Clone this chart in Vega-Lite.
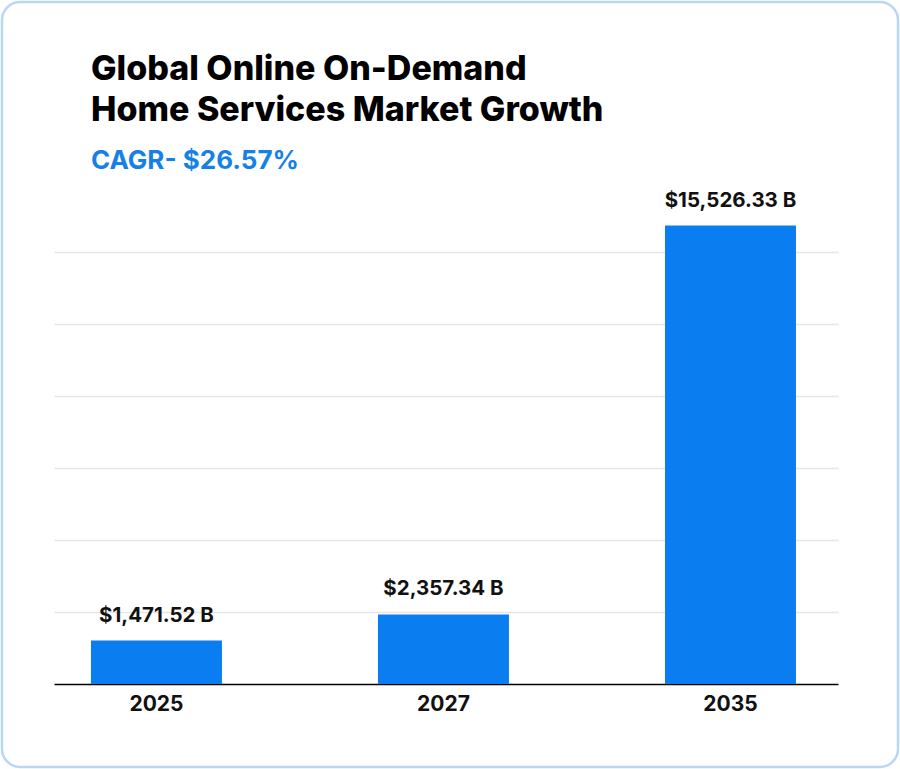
{
  "$schema": "https://vega.github.io/schema/vega-lite/v6.json",
  "width": 896,
  "height": 765,
  "autosize": "none",
  "padding": 2,
  "background": "#ffffff",
  "config": {
    "font": "Inter",
    "view": {"stroke": "#b9d6f8", "strokeWidth": 2.5, "cornerRadius": 18, "fill": "#ffffff"}
  },
  "title": {
    "text": ["Global Online On-Demand", "Home Services Market Growth"],
    "subtitle": "CAGR- $26.57%",
    "orient": "top",
    "anchor": "start",
    "frame": "group",
    "offset": -172,
    "dx": 89,
    "font": "Inter",
    "fontSize": 34,
    "fontWeight": 800,
    "lineHeight": 41,
    "color": "#000000",
    "subtitleFont": "Inter",
    "subtitleFontSize": 26,
    "subtitleFontWeight": 700,
    "subtitleColor": "#1581e6",
    "subtitlePadding": 20
  },
  "data": {
    "values": [
      {"year": "2025", "value": 1471.52, "label": "$1,471.52 B"},
      {"year": "2027", "value": 2357.34, "label": "$2,357.34 B"},
      {"year": "2035", "value": 15526.33, "label": "$15,526.33 B"}
    ]
  },
  "encoding": {
    "x": {
      "field": "year",
      "type": "ordinal",
      "sort": null,
      "scale": {"range": [52, 836], "paddingInner": 0.5436, "paddingOuter": 0.1376, "align": 0.468},
      "axis": {
        "title": null,
        "orient": "bottom",
        "offset": -83,
        "labelAngle": 0,
        "ticks": false,
        "domainColor": "#000000",
        "domainWidth": 1.5,
        "labelFont": "Inter",
        "labelFontSize": 21,
        "labelFontWeight": 700,
        "labelColor": "#111111",
        "labelPadding": 9,
        "grid": false
      }
    },
    "y": {
      "field": "value",
      "type": "quantitative",
      "scale": {"domain": [0, 17000], "range": [682, 180], "nice": false, "zero": true},
      "axis": {
        "title": null,
        "labels": false,
        "ticks": false,
        "domain": false,
        "grid": true,
        "gridColor": "#e6e6e6",
        "gridWidth": 1.5,
        "values": [2438, 4876, 7315, 9753, 12191, 14629]
      }
    }
  },
  "layer": [
    {
      "mark": {"type": "bar", "color": "#0a7ef0"}
    },
    {
      "mark": {
        "type": "text",
        "baseline": "alphabetic",
        "dy": -19,
        "font": "Inter",
        "fontSize": 20.5,
        "fontWeight": 700,
        "color": "#111111"
      },
      "encoding": {"text": {"field": "label"}}
    }
  ]
}
